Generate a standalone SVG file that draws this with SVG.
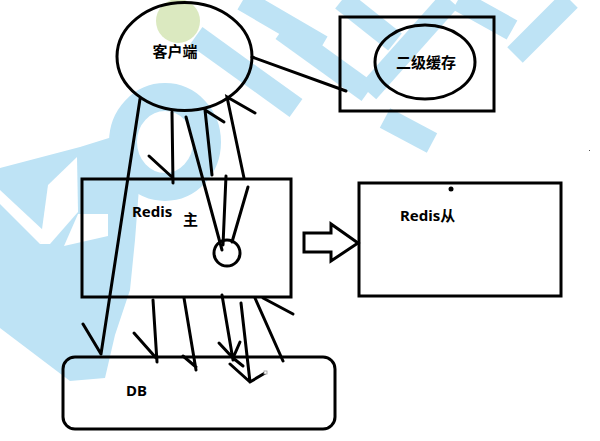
<svg xmlns="http://www.w3.org/2000/svg" width="600" height="441" viewBox="0 0 600 441">
<style>
.wm{fill:none;stroke:#bee3f5;stroke-width:22;stroke-linecap:butt;stroke-linejoin:round}
.wf{fill:#bee3f5}
.wc{fill:#fff}
.ln{fill:none;stroke:#000;stroke-width:3;stroke-linecap:round}
.box{fill:none;stroke:#000;stroke-width:3}
.lbl{font-family:"Noto Sans","Noto Sans CJK SC",sans-serif;font-weight:bold;font-size:15px;fill:#000}
</style>
<rect width="600" height="441" fill="#fff"/>
<g id="watermark">
<ellipse cx="165" cy="142" rx="42" ry="45" fill="none" stroke="#bee3f5" stroke-width="28"/>
<polygon class="wf" points="0,168 80,147 125,133 140,175 135,240 130,290 115,335 105,378 70,381 0,328"/>
<polygon class="wc" points="0,190 44,231 40,244 0,204"/>
<polygon class="wc" points="40,244 48,185 77,157 78,212 50,244"/>
<polygon class="wc" points="78,214 108,214 108,236 64,246"/>
<path class="wm" d="M196,36 L296,108"/>
<path class="wm" d="M243,0 L322,46"/>
<path class="wm" d="M282,30 L368,92"/>
<path class="wm" d="M342,0 L395,42"/>
<path class="wm" d="M368,92 L450,0"/>
<path class="wm" d="M385,118 L432,143"/>
<path class="wm" d="M458,0 L512,30"/>
<path class="wm" d="M515,55 L570,0"/>
<circle cx="178" cy="21" r="22" fill="#dbe9c0"/>
</g>
<g id="connectors">
<path class="ln" d="M140,99 L101,354 M83,324 L101,354"/>
<path class="ln" d="M172,112 L173,183 M149,156 L173,178"/>
<path class="ln" d="M186,117 L222,250"/>
<path class="ln" d="M212,175 L205,110 L224,122"/>
<path class="ln" d="M244,178 L227,97 L255,113"/>
<path class="ln" d="M226,176 L223,245"/>
<path class="ln" d="M248,187 L232,242"/>
<path class="ln" d="M252,57 L346,91"/>
<path class="ln" d="M153,300 L157,362 M134,333 L157,359"/>
<path class="ln" d="M184,298 L196,370 M183,356 L196,367"/>
<path class="ln" d="M222,295 L233,360 M219,343 L233,358 L240,342 M233,358 L243,366"/>
<path class="ln" d="M241,303 L250,382 M230,364 L250,382 L265,373"/>
<rect x="264" y="371" width="3" height="3" fill="#fff" stroke="#999" stroke-width="0.8"/>
<path class="ln" d="M255,298 L283,361"/>
<path class="ln" d="M263,298 L293,314"/>
</g>
<g id="client">
<ellipse class="box" cx="184.5" cy="56.5" rx="67.5" ry="54"/>
<text class="lbl" x="175" y="57" text-anchor="middle">客户端</text>
</g>
<g id="cache2">
<rect class="box" x="340" y="17" width="154" height="94"/>
<ellipse class="box" cx="425" cy="62" rx="50" ry="37"/>
<text class="lbl" x="426" y="68" text-anchor="middle">二级缓存</text>
</g>
<g id="redisMaster">
<rect class="box" x="82" y="179" width="209" height="118"/>
<text class="lbl" x="132" y="217">Redis</text>
<text class="lbl" x="183" y="225">主</text>
<circle class="box" cx="227" cy="253" r="13"/>
</g>
<g id="redisSlave">
<rect class="box" x="359" y="183" width="202" height="113"/>
<circle cx="451" cy="189" r="2.5" fill="#000"/>
<text class="lbl" x="400" y="221">Redis从</text>
</g>
<g id="arrow">
<polygon class="box" fill="#fff" points="304,233 331,233 331,224 358,243 331,261 331,252 304,252"/>
</g>
<g id="db">
<rect class="box" x="63" y="357" width="272" height="72" rx="12"/>
<text class="lbl" x="126" y="396">DB</text>
</g>
<rect x="589" y="150" width="1" height="1" fill="#555"/>
</svg>
